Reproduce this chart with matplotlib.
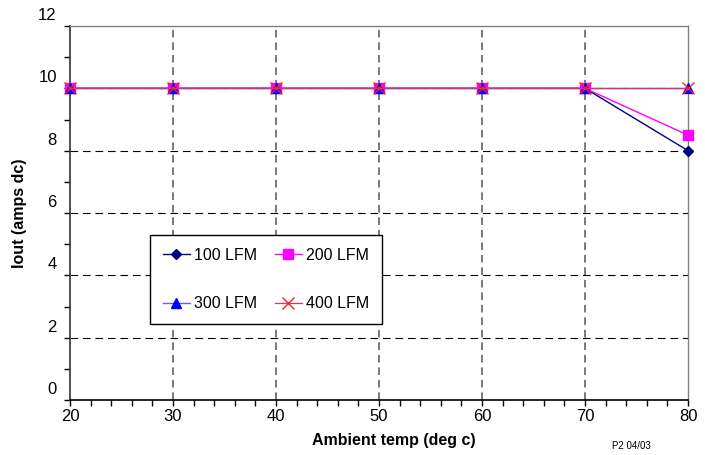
import matplotlib
matplotlib.use("Agg")
import matplotlib.pyplot as plt
from matplotlib.transforms import ScaledTranslation
from matplotlib.ticker import MultipleLocator

plt.rcParams['font.family'] = ['Liberation Sans', 'DejaVu Sans']
plt.rcParams['lines.scale_dashes'] = False

temps = [20, 30, 40, 50, 60, 70, 80]
lfm100 = [10, 10, 10, 10, 10, 10, 8.0]
lfm200 = [10, 10, 10, 10, 10, 10, 8.5]
lfm300 = [10, 10, 10, 10, 10, 10, 10]
lfm400 = [10, 10, 10, 10, 10, 10, 10]
labels = ['100 LFM', '200 LFM', '300 LFM', '400 LFM']

W, H = 705, 455
fig = plt.figure(figsize=(W / 100, H / 100), dpi=100)
ax = fig.add_axes([70 / W, 1 - 400 / H, 618 / W, 374 / H])

ax.set_xlim(20, 80)
ax.set_ylim(0, 12)

# grid
for x in [30, 40, 50, 60, 70]:
    ax.axvline(x, color='#555555', lw=1.1, linestyle=(0, (5.5, 3.5)), zorder=1)
for y in [2, 4, 6, 8, 10]:
    ax.axhline(y, color='black', lw=0.8, linestyle=(0, (5.5, 3.5)), zorder=1)

h1, = ax.plot(temps, lfm100, color='#000080', lw=1.0, marker='D', ms=5.5,
              mfc='#000080', mec='#000080', label=labels[0], clip_on=False, zorder=3)
h2, = ax.plot(temps, lfm200, color='#FF00FF', lw=1.0, marker='s', ms=6.5,
              mfc='#FF00FF', mec='#FF00FF', label=labels[1], clip_on=False, zorder=3)
h3, = ax.plot(temps, lfm300, color='#6060FF', lw=1.0, marker='^', ms=7,
              mfc='#0000FF', mec='#0000FF', label=labels[2], clip_on=False, zorder=3)
h4, = ax.plot(temps, lfm400, color='#E03060', lw=0.9, marker='x', ms=8, mew=1.0,
              mfc='#FF0000', mec='#FF2020', label=labels[3], clip_on=False, zorder=3)

# spines
ax.spines['left'].set_color('#333333')
ax.spines['left'].set_linewidth(1.2)
ax.spines['bottom'].set_color('black')
ax.spines['bottom'].set_linewidth(1.2)
ax.spines['top'].set_color('#808080')
ax.spines['right'].set_color('#808080')
ax.spines['top'].set_linewidth(1.0)
ax.spines['right'].set_linewidth(1.0)

ax.xaxis.set_major_locator(MultipleLocator(10))
ax.xaxis.set_minor_locator(MultipleLocator(2))
ax.yaxis.set_major_locator(MultipleLocator(2))
ax.yaxis.set_minor_locator(MultipleLocator(1))
ax.tick_params(axis='both', which='both', direction='out', length=4.5, width=1.0,
               colors='black', labelsize=12)
ax.tick_params(axis='y', pad=5)
ax.tick_params(axis='x', pad=2)

for lab in ax.get_yticklabels():
    lab.set_transform(lab.get_transform() + ScaledTranslation(0, 0.12, fig.dpi_scale_trans))

fig.text(20 / W, 1 - 213 / H, 'Iout (amps dc)', fontsize=11.5, fontweight='bold',
         rotation=90, ha='center', va='center')
fig.text(393.5 / W, 1 - 441 / H, 'Ambient temp (deg c)', fontsize=11.5,
         fontweight='bold', ha='center', va='center')
fig.text(631 / W, 1 - 446 / H, 'P2 04/03', fontsize=7, ha='center', va='center')

leg = ax.legend([h1, h3, h2, h4], [labels[0], labels[2], labels[1], labels[3]],
                ncol=2, loc='upper left', bbox_to_anchor=(150 / W, 1 - 235 / H),
                bbox_transform=fig.transFigure, borderaxespad=0, fontsize=11.5,
                frameon=True, fancybox=False, shadow=False, borderpad=0.8,
                labelspacing=2.1, handlelength=1.7, handletextpad=0.25,
                columnspacing=1.1)
leg.get_frame().set_edgecolor('black')
leg.get_frame().set_linewidth(1.0)
leg.get_frame().set_facecolor('white')
leg.get_frame().set_alpha(1)

fig.savefig('out.png', dpi=100)
